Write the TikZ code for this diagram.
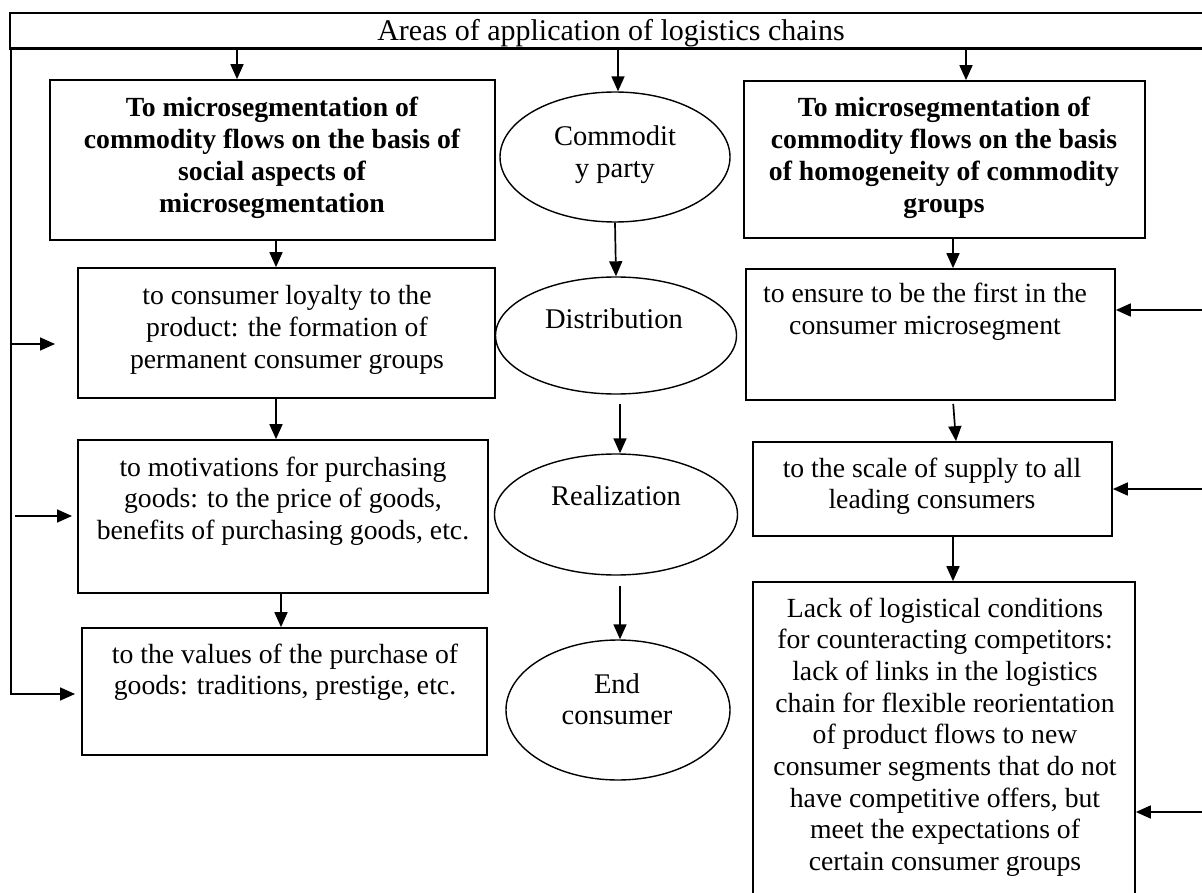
\documentclass[tikz,border=0pt]{standalone}
\usepackage{fontspec}
\setmainfont{Liberation Serif}
\usetikzlibrary{arrows.meta,shapes.geometric}
\newcommand\mylines[1]{\begin{tabular}[t]{@{}c@{}}#1\end{tabular}}
\begin{document}
\begin{tikzpicture}[x=1pt,y=-1pt,
  box/.style={draw,line width=1.7pt,rectangle,inner sep=0pt},
  oval/.style={draw,line width=1.4pt,ellipse,inner sep=0pt},
  txt/.style={anchor=base,inner sep=0pt,font=\fontsize{27.7}{31.7}\selectfont},
  otxt/.style={anchor=base,inner sep=0pt,font=\fontsize{28.5}{31.7}\selectfont},
  btxt/.style={anchor=base,inner sep=0pt,font=\fontsize{27.7}{31.7}\selectfont\bfseries},
  arr/.style={line width=1.7pt,-{Triangle[length=15pt,width=13pt]}}]
\useasboundingbox (0,0) rectangle (1202,893);
\fill[white] (0,0) rectangle (1202,893);

% top bar
\node[draw,line width=1.4pt,rectangle,inner sep=0pt,minimum width=1200pt,minimum height=35pt] (bar) at (610,30.5) {};
\draw[line width=3pt] (bar.south west) -- (bar.south east);
\node[anchor=base,inner sep=0pt,font=\fontsize{30}{34}\selectfont] (tbar) at (611,41) {Areas of application of logistics chains};

% left column
\node[box,minimum width=445pt,minimum height=160pt] (L1) at (272.5,160) {};
\node[btxt] (tL1) at (272,117) {\mylines{To microsegmentation of\\commodity flows on the basis of\\social aspects of\\microsegmentation}};
\node[box,minimum width=417pt,minimum height=130pt] (L2) at (286.5,333) {};
\node[txt] (tL2) at (287,305) {\mylines{to consumer loyalty to the\\product: the formation of\\permanent consumer groups}};
\node[box,minimum width=410pt,minimum height=153pt] (L3) at (283,516.5) {};
\node[txt] (tL3) at (283,476) {\mylines{to motivations for purchasing\\goods: to the price of goods,\\benefits of purchasing goods, etc.}};
\node[box,minimum width=405pt,minimum height=127pt] (L4) at (284.5,691.5) {};
\node[txt] (tL4) at (285,663) {\mylines{to the values of the purchase of\\goods: traditions, prestige, etc.}};

% middle column
\node[oval,minimum width=230pt,minimum height=130pt] (E1) at (615,157) {};
\node[otxt] (tE1) at (615,146) {\mylines{Commodit\\y party}};
\node[oval,minimum width=241pt,minimum height=117pt] (E2) at (616,335.5) {};
\node[otxt] (tE2) at (614,328) {Distribution};
\node[oval,minimum width=243pt,minimum height=121pt] (E3) at (616,514.5) {};
\node[otxt] (tE3) at (616,505) {Realization};
\node[oval,minimum width=224pt,minimum height=140pt] (E4) at (618,710) {};
\node[otxt] (tE4) at (617,693) {\mylines{End\\consumer}};

% right column
\node[box,minimum width=401pt,minimum height=157pt] (R1) at (944.5,159.5) {};
\node[btxt] (tR1) at (944,117) {\mylines{To microsegmentation of\\commodity flows on the basis\\of homogeneity of commodity\\groups}};
\node[box,minimum width=369pt,minimum height=131pt] (R2) at (930.5,334.5) {};
\node[txt] (tR2) at (925,303) {\mylines{to ensure to be the first in the\\consumer microsegment}};
\node[box,minimum width=359pt,minimum height=94pt] (R3) at (932.5,489) {};
\node[txt] (tR3) at (932,477) {\mylines{to the scale of supply to all\\leading consumers}};
\node[box,minimum width=382pt,minimum height=330pt] (R4) at (944,747) {};
\node[txt] (tR4) at (945,617) {\mylines{Lack of logistical conditions\\for counteracting competitors:\\lack of links in the logistics\\chain for flexible reorientation\\of product flows to new\\consumer segments that do not\\have competitive offers, but\\meet the expectations of\\certain consumer groups}};

% x positions of vertical connectors
\coordinate (xa) at (237,0);
\coordinate (xb) at (618,0);
\coordinate (xc) at (966,0);
\coordinate (xd) at (276,0);
\coordinate (xe) at (281,0);
\coordinate (xf) at (620,0);
\coordinate (xg) at (953,0);
\coordinate (xh) at (956,0);

\draw[arr] (bar.south -| xa) -- (L1.north -| xa);
\draw[arr] (bar.south -| xb) -- (E1.north -| xb);
\draw[arr] (bar.south -| xc) -- (R1.north -| xc);

\draw[arr] (L1.south -| xd) -- (L2.north -| xd);
\draw[arr] (L2.south -| xd) -- (L3.north -| xd);
\draw[arr] (L3.south -| xe) -- (L4.north -| xe);

\draw[arr] (E1.south) -- (E2.north);
\draw[arr,shorten <=9pt] (E2.south -| xf) -- (E3.north -| xf);
\draw[arr,shorten <=10pt] (E3.south -| xf) -- (E4.north -| xf);

\draw[arr] (R1.south -| xg) -- (R2.north -| xg);
\draw[arr,shorten <=3pt] (R2.south -| xg) -- (R3.north -| xh);
\draw[arr] (R3.south -| xg) -- (R4.north -| xg);

% left feedback line
\coordinate (v) at ([xshift=2pt]bar.south west);
\coordinate (a4) at (75,694);
\draw[arr] (v) |- (a4);
\coordinate (a2) at (55,344);
\coordinate (a3) at (72,516);
\draw[arr] (v |- a2) -- (a2);
\draw[arr] ([xshift=4pt]v |- a3) -- (a3);

% right incoming arrows
\coordinate (r2) at (1203,310);
\coordinate (r3) at (1203,489);
\coordinate (r4) at (1203,812);
\draw[arr] (r2) -- (r2 -| R2.east);
\draw[arr] (r3) -- (r3 -| R3.east);
\draw[arr] (r4) -- (r4 -| R4.east);
\end{tikzpicture}
\end{document}
